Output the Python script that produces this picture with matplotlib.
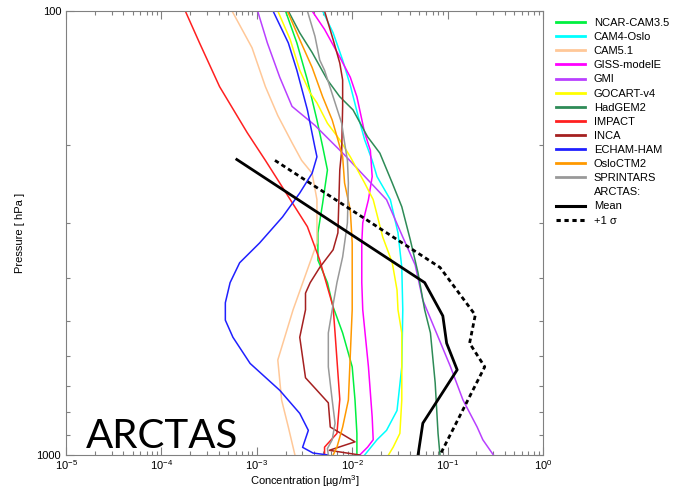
import matplotlib
matplotlib.use('Agg')
import matplotlib.pyplot as plt
from matplotlib.lines import Line2D
from matplotlib.ticker import LogLocator, FixedLocator, FixedFormatter, NullFormatter

plt.rcParams['font.family'] = ['Liberation Sans', 'DejaVu Sans']
plt.rcParams['mathtext.default'] = 'regular'

# vertical profiles, pressure [hPa] and concentration [ug/m3]
ncar_p = [100, 118, 143, 176, 202, 228, 271, 316, 364, 409, 464, 531, 633, 752, 894, 1000]
ncar_c = [2.00e-3, 2.63e-3, 3.39e-3, 4.27e-3, 4.90e-3, 5.50e-3, 4.90e-3, 4.37e-3,
          4.37e-3, 5.50e-3, 6.31e-3, 7.94e-3, 1.00e-2, 1.07e-2, 1.12e-2, 1.12e-2]

cam4_p = [100, 112, 129, 147, 172, 195, 217, 236, 266, 316, 378, 471, 633, 794, 880, 924, 1000]
cam4_c = [4.90e-3, 6.31e-3, 7.94e-3, 9.55e-3, 1.15e-2, 1.35e-2, 1.62e-2, 1.82e-2, 2.51e-2,
          3.02e-2, 3.31e-2, 3.39e-2, 3.31e-2, 2.95e-2, 2.29e-2, 1.82e-2, 1.35e-2]

cam5_p = [100, 121, 148, 172, 198, 217, 232, 266, 333, 471, 611, 752, 865, 1000]
cam5_c = [5.50e-4, 8.91e-4, 1.23e-3, 1.66e-3, 2.34e-3, 2.95e-3, 3.80e-3, 4.27e-3,
          4.27e-3, 2.40e-3, 1.66e-3, 1.82e-3, 2.14e-3, 2.51e-3]

giss_p = [100, 110, 127, 141, 156, 188, 206, 236, 266, 300, 333, 409, 471, 633, 822, 924, 960, 1000]
giss_c = [3.80e-3, 5.13e-3, 7.41e-3, 9.55e-3, 1.12e-2, 1.35e-2, 1.55e-2, 1.62e-2, 1.48e-2,
          1.29e-2, 1.26e-2, 1.26e-2, 1.29e-2, 1.48e-2, 1.62e-2, 1.66e-2, 1.45e-2, 1.20e-2]

gmi_p = [100, 118, 141, 164, 181, 211, 266, 323, 373, 448, 632, 752, 865, 924, 1000]
gmi_c = [1.02e-3, 1.29e-3, 1.74e-3, 2.34e-3, 4.07e-3, 8.32e-3, 2.29e-2, 3.39e-2,
         4.57e-2, 5.50e-2, 0.107, 0.145, 0.204, 0.234, 0.302]

gocart_p = [100, 116, 136, 153, 161, 179, 195, 213, 244, 266, 323, 369, 425, 471, 531, 752, 894, 960, 1000]
gocart_c = [1.66e-3, 2.24e-3, 2.82e-3, 3.63e-3, 4.27e-3, 5.50e-3, 7.41e-3, 9.55e-3, 1.35e-2,
            1.66e-2, 2.09e-2, 2.63e-2, 2.95e-2, 3.02e-2, 3.31e-2, 3.31e-2, 3.16e-2, 2.69e-2, 2.40e-2]

hadgem_p = [100, 112, 124, 143, 156, 167, 192, 209, 244, 276, 328, 389, 471, 531, 688, 894, 1000]
hadgem_c = [2.14e-3, 2.82e-3, 3.80e-3, 5.50e-3, 7.41e-3, 1.02e-2, 1.45e-2, 1.95e-2, 2.63e-2,
            3.31e-2, 4.07e-2, 4.90e-2, 5.75e-2, 6.61e-2, 7.41e-2, 7.94e-2, 8.32e-2]

impact_p = [100, 118, 148, 188, 217, 244, 306, 364, 464, 531, 749, 894, 960, 1000]
impact_c = [1.78e-4, 2.51e-4, 4.07e-4, 7.94e-4, 1.23e-3, 1.74e-3, 3.39e-3, 4.57e-3,
            6.31e-3, 6.61e-3, 7.41e-3, 6.92e-3, 5.13e-3, 5.13e-3]

inca_p = [100, 116, 131, 143, 164, 206, 228, 316, 345, 378, 409, 432, 471, 543, 670, 715, 763,
          865, 934, 976, 1000]
inca_c = [5.13e-3, 6.31e-3, 7.41e-3, 7.94e-3, 7.94e-3, 7.76e-3, 7.41e-3, 7.08e-3, 6.31e-3,
          4.57e-3, 3.63e-3, 3.24e-3, 3.24e-3, 2.82e-3, 3.24e-3, 4.27e-3, 5.62e-3, 5.89e-3,
          1.07e-2, 5.75e-3, 1.20e-2]

echam_p = [100, 118, 136, 167, 203, 213, 232, 257, 291, 333, 369, 409, 454, 497, 543, 622, 715,
           806, 880, 961, 990, 1000]
echam_c = [1.48e-3, 2.14e-3, 2.63e-3, 3.39e-3, 4.07e-3, 4.27e-3, 3.80e-3, 2.82e-3, 1.86e-3,
           1.07e-3, 6.61e-4, 5.25e-4, 4.68e-4, 4.68e-4, 5.62e-4, 8.51e-4, 1.74e-3, 2.82e-3,
           3.47e-3, 3.02e-3, 3.89e-3, 5.62e-3]

oslo_p = [100, 116, 134, 156, 176, 195, 213, 244, 281, 333, 471, 752, 865, 960, 1000]
oslo_c = [2.09e-3, 2.82e-3, 3.80e-3, 4.90e-3, 6.17e-3, 7.08e-3, 7.94e-3, 8.32e-3, 9.55e-3,
          1.00e-2, 1.00e-2, 9.12e-3, 7.94e-3, 6.92e-3, 6.31e-3]

sprint_p = [100, 114, 129, 136, 156, 179, 198, 217, 244, 300, 358, 409, 471, 531, 633, 752, 848,
            924, 967, 1000]
sprint_c = [3.39e-3, 4.07e-3, 4.57e-3, 5.13e-3, 6.31e-3, 7.76e-3, 8.32e-3, 8.91e-3, 9.12e-3,
            8.91e-3, 7.94e-3, 6.92e-3, 6.17e-3, 5.62e-3, 5.62e-3, 6.17e-3, 6.61e-3, 6.17e-3,
            5.50e-3, 5.62e-3]

arctas_mean_p = [216, 409, 486, 560, 643, 848, 1000]
arctas_mean_c = [6.17e-4, 5.75e-2, 8.91e-2, 9.77e-2, 0.126, 5.50e-2, 4.90e-2]

arctas_sig_p = [217, 378, 484, 560, 633, 1000]
arctas_sig_c = [1.55e-3, 8.32e-2, 0.195, 0.170, 0.245, 8.32e-2]

model_names = ['NCAR-CAM3.5', 'CAM4-Oslo', 'CAM5.1', 'GISS-modelE', 'GMI', 'GOCART-v4',
               'HadGEM2', 'IMPACT', 'INCA', 'ECHAM-HAM', 'OsloCTM2', 'SPRINTARS']
model_colors = ['#00f040', '#00ffff', '#ffc898', '#ff00ff', '#b940ff', '#ffff00',
                '#2e8b57', '#ff2020', '#a52020', '#2020ff', '#ff9900', '#999999']
profiles = [(ncar_p, ncar_c), (cam4_p, cam4_c), (cam5_p, cam5_c), (giss_p, giss_c),
            (gmi_p, gmi_c), (gocart_p, gocart_c), (hadgem_p, hadgem_c), (impact_p, impact_c),
            (inca_p, inca_c), (echam_p, echam_c), (oslo_p, oslo_c), (sprint_p, sprint_c)]

fig = plt.figure(figsize=(6.73, 4.90), dpi=100)
ax = fig.add_axes([66 / 673, 1 - 455 / 490, 477 / 673, 444 / 490])

for (p, c), col in zip(profiles, model_colors):
    ax.plot(c, p, color=col, lw=1.1)

ax.plot(arctas_mean_c, arctas_mean_p, color='black', lw=2.0)
ax.plot(arctas_sig_c, arctas_sig_p, color='black', lw=2.0, linestyle=(0, (1.6, 1.2)))

ax.set_xscale('log')
ax.set_yscale('log')
ax.set_xlim(1e-5, 1)
ax.set_ylim(1000, 100)

ax.xaxis.set_major_locator(LogLocator(base=10, numticks=10))
ax.xaxis.set_minor_locator(LogLocator(base=10, subs=range(2, 10), numticks=20))
ax.xaxis.set_minor_formatter(NullFormatter())
ax.yaxis.set_major_locator(FixedLocator([100, 1000]))
ax.yaxis.set_major_formatter(FixedFormatter(['100', '1000']))
ax.yaxis.set_minor_locator(FixedLocator(list(range(200, 1000, 100))))
ax.yaxis.set_minor_formatter(NullFormatter())

ax.tick_params(which='both', direction='in', top=True, right=True, color='#808080',
               labelsize=8, width=0.8)
ax.tick_params(which='major', length=6)
ax.tick_params(which='minor', length=3)
ax.tick_params(axis='x', pad=2.5)
for s in ax.spines.values():
    s.set_color('#808080')
    s.set_linewidth(0.8)

ax.set_xlabel('Concentration [µg/m$^3$]', fontsize=8)
ax.xaxis.set_label_coords(0.5, -0.041)
ax.set_ylabel('Pressure [ hPa ]', fontsize=8)
ax.yaxis.set_label_coords(-0.087, 0.5)

ax.text(0.041, 0.016, 'ARCTAS', transform=ax.transAxes, fontsize=29,
        family=['Lato', 'DejaVu Sans'], ha='left', va='baseline')

handles = [Line2D([], [], color=col, lw=2) for col in model_colors]
handles.append(Line2D([], [], color='none'))
handles.append(Line2D([], [], color='black', lw=2.2))
handles.append(Line2D([], [], color='black', lw=2.2, linestyle=(0, (1.4, 1.2))))
labels = model_names + ['ARCTAS:', 'Mean', '+1 σ']
fig.legend(handles, labels, loc='upper left', bbox_to_anchor=(556 / 673, 1 - 18 / 490),
           frameon=False, fontsize=8, borderpad=0, borderaxespad=0,
           handlelength=2.6, handletextpad=0.8, labelspacing=0.37)

fig.savefig('out.png', dpi=100)
